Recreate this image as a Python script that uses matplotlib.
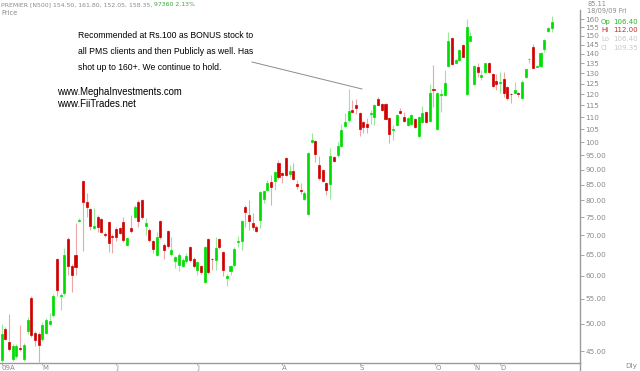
import matplotlib
matplotlib.use('Agg')
import matplotlib.pyplot as plt
import numpy as np
from matplotlib.lines import Line2D
from matplotlib.ticker import FixedLocator, FixedFormatter, NullLocator

opens = [43.5, 48.9, 46.6, 43.6, 44.2, 45.6, 43.6, 48.5, 55.1, 48.2,
         48.0, 47.2, 48.3, 50.0, 51.7, 63.9, 55.5, 56.2, 69.0, 62.4,
         64.9, 74.0, 86.2, 79.4, 77.3, 72.1, 75.2, 74.5, 70.4, 73.6,
         69.8, 71.8, 71.9, 73.7, 67.6, 72.0, 75.2, 79.6, 80.1, 72.6,
         71.5, 68.4, 65.0, 73.9, 67.5, 71.2, 65.2, 63.5, 62.5, 62.4,
         63.5, 66.9, 64.0, 61.3, 62.2, 58.7, 69.0, 64.0, 63.8, 69.0,
         65.6, 59.6, 61.0, 62.5, 68.2, 68.4, 78.1, 75.7, 73.3, 72.4,
         74.2, 80.3, 83.4, 85.9, 86.2, 92.2, 88.7, 94.0, 88.5, 89.4,
         85.1, 83.2, 80.6, 76.1, 100.2, 100.3, 91.6, 89.8, 85.4, 85.2,
         94.3, 95.1, 98.4, 106.2, 108.7, 113.2, 115.4, 111.8, 107.8, 107.1,
         111.2, 110.1, 117.7, 115.8, 115.8, 109.8, 104.8, 106.7, 112.4, 110.1,
         106.7, 107.1, 109.1, 102.5, 108.1, 112.0, 108.5, 122.6, 105.1, 119.8,
         119.6, 133.6, 148.9, 135.5, 136.7, 145.1, 120.2, 147.3, 124.6, 133.0,
         128.3, 130.6, 135.3, 129.6, 126.2, 125.2, 127.2, 123.5, 120.0, 120.5,
         120.8, 118.4, 128.3, 137.1, 143.5, 133.4, 133.6, 142.6, 152.9, 154.5]
highs = [49.9, 49.4, 51.9, 46.3, 46.2, 49.8, 46.5, 51.3, 55.5, 48.5,
         48.4, 50.2, 51.0, 52.0, 56.0, 64.3, 56.2, 66.6, 69.5, 62.8,
         73.3, 74.7, 86.6, 82.3, 77.7, 77.6, 75.6, 74.9, 70.8, 74.0,
         70.3, 72.2, 72.3, 75.0, 69.6, 75.7, 78.5, 80.0, 80.4, 74.8,
         72.0, 68.8, 71.0, 74.3, 67.9, 71.6, 69.6, 64.8, 65.5, 64.1,
         65.5, 67.3, 64.4, 63.6, 62.6, 67.3, 69.4, 64.2, 69.6, 69.4,
         66.0, 60.3, 62.6, 66.9, 69.8, 74.3, 78.5, 80.1, 76.3, 72.8,
         82.9, 83.4, 86.5, 88.1, 89.6, 93.3, 89.1, 94.5, 91.6, 92.2,
         86.5, 85.4, 82.8, 96.3, 103.4, 100.7, 94.7, 90.2, 85.8, 97.7,
         94.7, 100.0, 107.1, 111.6, 122.4, 117.4, 117.7, 112.2, 108.2, 109.5,
         113.0, 115.8, 118.6, 116.2, 116.2, 110.2, 106.7, 111.2, 113.7, 112.2,
         109.9, 111.2, 109.5, 110.5, 114.7, 112.4, 124.7, 134.2, 120.9, 122.3,
         131.6, 152.0, 149.4, 137.1, 142.8, 145.5, 159.8, 152.5, 134.0, 135.0,
         131.6, 135.4, 135.7, 130.0, 129.7, 130.8, 130.8, 123.9, 120.5, 125.9,
         121.2, 126.7, 132.4, 137.8, 145.3, 134.2, 141.0, 148.0, 155.1, 161.8]
lows = [43.2, 46.9, 45.0, 43.3, 43.8, 45.0, 43.3, 48.0, 47.5, 45.9,
        43.2, 46.8, 48.0, 49.7, 51.3, 55.5, 52.7, 55.8, 60.2, 56.5,
        60.2, 73.7, 65.9, 75.2, 71.5, 71.8, 71.0, 70.6, 69.6, 65.6,
        65.5, 68.4, 70.3, 68.3, 67.2, 70.7, 74.8, 72.4, 74.6, 70.1,
        68.3, 65.5, 64.6, 69.0, 64.0, 66.8, 64.8, 61.7, 61.2, 62.0,
        63.1, 63.3, 61.7, 60.2, 60.4, 58.3, 60.5, 61.4, 61.4, 66.5,
        59.9, 57.8, 60.2, 62.1, 66.9, 66.2, 72.4, 71.5, 71.5, 70.9,
        71.9, 79.1, 83.0, 78.6, 83.2, 87.0, 85.4, 87.7, 87.5, 86.6,
        83.5, 82.1, 80.2, 75.7, 99.7, 92.6, 86.5, 85.9, 81.7, 80.6,
        92.6, 94.5, 98.0, 105.8, 108.1, 111.8, 111.5, 102.5, 103.4, 103.4,
        107.0, 106.7, 115.0, 112.8, 109.0, 99.8, 100.9, 106.3, 111.4, 108.1,
        106.3, 106.7, 105.6, 102.1, 107.7, 107.7, 108.1, 114.4, 104.7, 112.2,
        119.2, 133.2, 134.0, 135.1, 136.3, 138.2, 119.8, 146.9, 124.2, 128.3,
        126.7, 130.2, 130.4, 123.6, 121.9, 120.8, 118.8, 117.4, 115.9, 120.1,
        118.8, 118.0, 127.9, 135.5, 132.5, 133.0, 133.2, 141.1, 152.5, 152.05]
closes = [48.0, 47.2, 45.4, 45.9, 45.8, 45.3, 46.1, 50.7, 47.9, 47.0,
          46.1, 49.7, 50.6, 50.4, 55.6, 56.9, 55.8, 64.9, 62.3, 60.2,
          62.0, 74.3, 79.4, 77.9, 72.6, 72.6, 72.4, 71.0, 70.0, 67.9,
          69.5, 69.6, 70.7, 68.8, 69.2, 71.1, 78.1, 73.9, 75.0, 73.3,
          68.8, 66.5, 69.6, 69.5, 66.1, 67.2, 66.1, 64.4, 65.0, 63.7,
          64.7, 63.7, 62.2, 63.2, 60.8, 66.9, 60.9, 64.0, 66.8, 66.9,
          61.4, 59.9, 62.2, 66.5, 68.5, 73.9, 76.5, 74.0, 72.4, 71.3,
          82.5, 83.0, 85.6, 84.3, 89.2, 87.4, 88.1, 88.1, 89.4, 87.0,
          84.6, 82.9, 82.4, 95.9, 100.8, 95.5, 87.1, 86.3, 83.2, 94.7,
          93.0, 98.4, 104.7, 107.8, 112.6, 112.2, 113.7, 105.1, 106.0, 106.0,
          111.6, 115.4, 115.4, 113.2, 109.4, 103.1, 105.3, 110.8, 111.8, 108.5,
          109.5, 110.8, 106.0, 110.1, 111.8, 108.1, 120.8, 122.2, 120.5, 120.2,
          125.1, 147.2, 134.6, 136.7, 142.4, 138.6, 155.4, 149.9, 133.6, 130.9,
          129.1, 135.0, 130.8, 124.0, 124.7, 125.6, 120.8, 118.3, 120.0, 121.9,
          120.2, 125.9, 132.0, 137.5, 132.9, 133.8, 140.6, 147.6, 154.7, 158.35]

month_labels = ["09A", "M", "J", "J", "A", "S", "O", "N", "D"]
month_pos = [0, 11, 31, 53, 76, 97, 117.5, 128, 135]
ytick_vals = list(range(45, 161, 5))
ytick_labels = [f"{v:.2f}" if v < 100 else f"{v:d}" for v in ytick_vals]

W, H = 640, 371
fig = plt.figure(figsize=(6.4, 3.71), dpi=100)
ax_l, ax_r, ax_t, ax_b = 0, 580, 10, 363
ax = fig.add_axes([ax_l / W, 1 - ax_b / H, (ax_r - ax_l) / W, (ax_b - ax_t) / H])
ax.set_yscale('log')

o = np.array(opens); h = np.array(highs); l = np.array(lows); c = np.array(closes)
x = np.arange(len(o))
up = c > o
doji = c == o
body_col = np.where(doji, '#500000', np.where(up, '#00dd00', '#d00000'))
wick_col = np.where(up, '#9ae89a', '#eaa8a8')

ax.vlines(x, l, h, colors=wick_col, linewidth=0.8, zorder=2)
ax.bar(x, np.abs(c - o), bottom=np.minimum(o, c), width=0.55,
       color=body_col, edgecolor=body_col, linewidth=0.5, zorder=3)

ax.set_xlim(-0.46, 156.7)
ax.set_ylim(43.0, 165.6)

grey = '#9a9a9a'
for s in ['top', 'left']:
    ax.spines[s].set_visible(False)
for s in ['right', 'bottom']:
    ax.spines[s].set_color(grey)
    ax.spines[s].set_linewidth(1.0)

ax.yaxis.tick_right()
ax.yaxis.set_major_locator(FixedLocator(ytick_vals))
ax.yaxis.set_major_formatter(FixedFormatter(ytick_labels))
ax.yaxis.set_minor_locator(NullLocator())
ax.tick_params(axis='y', direction='out', length=3, width=0.6, color=grey,
               labelsize=5.2, labelcolor='#8a8a8a', pad=1)

ax.xaxis.set_major_locator(FixedLocator(month_pos))
ax.xaxis.set_major_formatter(FixedFormatter(month_labels))
ax.tick_params(axis='x', direction='out', length=1.5, width=0.6, color=grey,
               labelsize=5.0, labelcolor='#8a8a8a', pad=0)
for lab in ax.get_xticklabels():
    lab.set_horizontalalignment('left')

# extension of y axis line below the x axis
fig.add_artist(Line2D([ax_r / W, ax_r / W], [0, 1 - ax_b / H],
                      color=grey, linewidth=1.0))

def fx(px):
    return px / W

def fy(py):
    return 1 - py / H

# header
t1 = fig.text(fx(1), fy(5), "PREMIER [N500] 154.50, 161.80, 152.05, 158.35, ",
              fontsize=4.4, color='#8a8a8a', va='center', ha='left')
fig.canvas.draw()
bb = t1.get_window_extent(renderer=fig.canvas.get_renderer())
fig.text(bb.x1 / W, fy(5), "97360 2.13%", fontsize=4.4, color='#3aa83a',
         va='center', ha='left')
fig.text(fx(1), fy(13), "Price", fontsize=4.8, color='#8a8a8a',
         va='center', ha='left')

# right top info
fig.text(fx(597), fy(4), "85.11", fontsize=4.8, color='#8a8a8a', va='center', ha='center')
fig.text(fx(607), fy(11), "18/09/09 Fri", fontsize=4.8, color='#8a8a8a', va='center', ha='center')
info = [("Op", "106.40", '#2bb52b'), ("Hi", "112.00", '#c03030'),
        ("Lo", "106.40", '#c8c8c8'), ("Cl", "109.35", '#c8c8c8')]
for i, (k, v, col) in enumerate(info):
    yy = 22 + i * 8.5
    fig.text(fx(601), fy(yy), k, fontsize=5.0, color=col, va='center', ha='left')
    fig.text(fx(638), fy(yy), v, fontsize=5.0, color=col, va='center', ha='right')

fig.text(fx(637), fy(366), "Dly", fontsize=5.2, color='#8a8a8a', va='center', ha='right')

# annotation
note = ["Recommended at Rs.100 as BONUS stock to",
        "all PMS clients and then Publicly as well. Has",
        "shot up to 160+. We continue to hold."]
for i, t in enumerate(note):
    fig.text(fx(78), fy(36 + i * 15.5), t, fontsize=6.25, color='black',
             va='center', ha='left', family='Liberation Sans')
fig.add_artist(Line2D([fx(252), fx(362)], [fy(62), fy(89)],
                      color='#8c8c8c', linewidth=0.7))

fig.text(fx(57), fy(92), "www.MeghaInvestments.com", fontsize=6.9, color='black',
         va='center', ha='left', family='Liberation Sans')
fig.text(fx(57), fy(104), "www.FiiTrades.net", fontsize=6.9, color='black',
         va='center', ha='left', family='Liberation Sans')

fig.savefig('out.png', dpi=100, facecolor='white')
